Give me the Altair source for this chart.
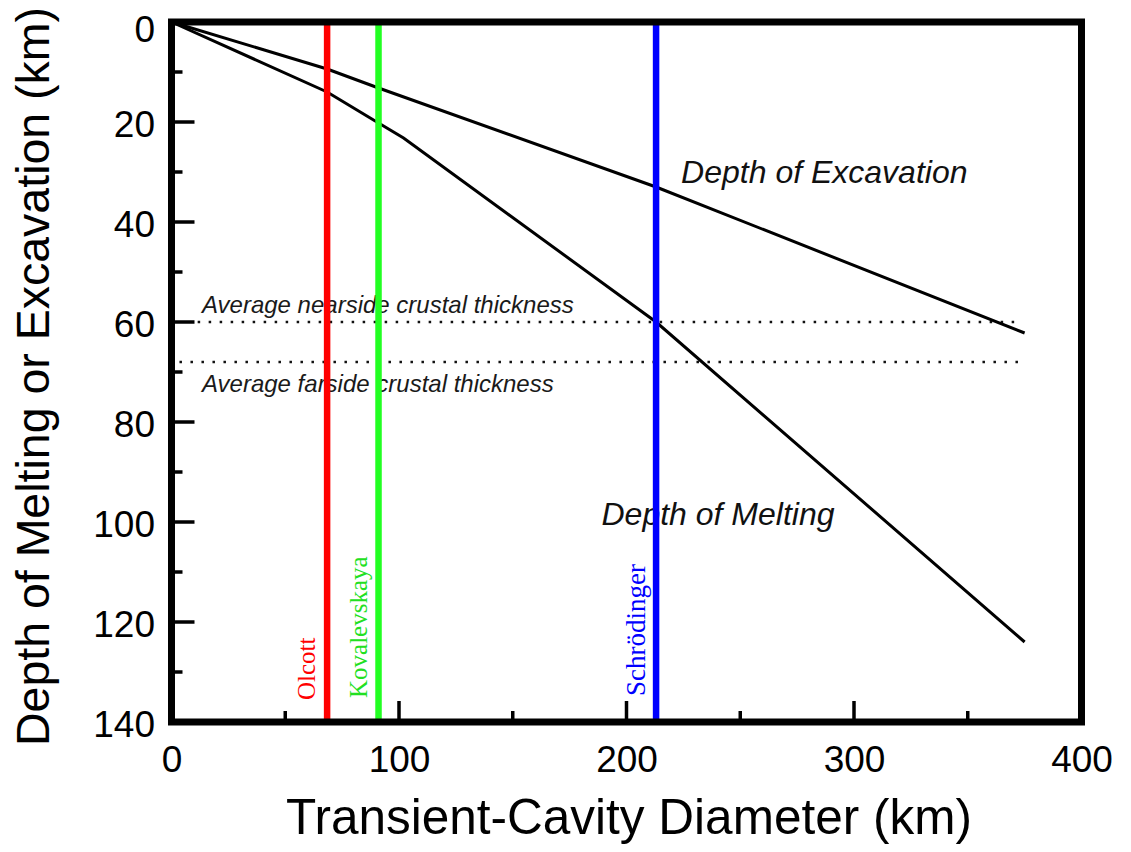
import altair as alt
import pandas as pd

# ---- data ----
exc_d = [0, 68.4, 91, 213, 375]
exc_z = [0, 9.4, 13.2, 33, 62.2]
melt_d = [0, 68.4, 91, 102, 213, 375]
melt_z = [0, 14, 20.2, 23.2, 60, 124]

crater_names = ["Olcott", "Kovalevskaya", "Schrödinger"]
crater_d = [68.4, 91, 213]
crater_line_colors = ["#ff0000", "#22ff22", "#0000ff"]
crater_text_colors = ["#ff0000", "#22e022", "#0000ff"]
crater_font_sizes = [25, 25, 27]
crater_label_d = [63, 85.8, 208]
crater_label_z = [135.6, 135.2, 134.8]

crust_names = ["Average nearside crustal thickness", "Average farside crustal thickness"]
crust_z = [60, 68]
crust_start = [11.5, 3.5]
crust_end = [374, 374]
crust_label_d = [13.4, 13.4]
crust_label_z = [58.2, 74]

curve_names = ["Depth of Excavation", "Depth of Melting"]
curve_label_d = [224, 189]
curve_label_z = [32.2, 100.6]

x_labels = [0, 100, 200, 300, 400]
y_labels = [0, 20, 40, 60, 80, 100, 120, 140]
x_major = [100, 200, 300]
x_minor = [50, 150, 250, 350]
y_major = [20, 40, 60, 80, 100, 120]
y_minor = [10, 30, 50, 70, 90, 110, 130]

W, H = 910, 700
SANS = "Liberation Sans"
SERIF = "Liberation Serif"

# ---- tables ----
curves = pd.concat([
    pd.DataFrame({"d": exc_d, "z": exc_z, "curve": curve_names[0]}),
    pd.DataFrame({"d": melt_d, "z": melt_z, "curve": curve_names[1]}),
])
craters = pd.DataFrame({"name": crater_names, "d": crater_d, "col": crater_line_colors,
                        "tcol": crater_text_colors, "fs": crater_font_sizes,
                        "ld": crater_label_d, "lz": crater_label_z})
crust = pd.DataFrame({"name": crust_names, "z": crust_z, "d": crust_start, "d2": crust_end,
                      "ld": crust_label_d, "lz": crust_label_z})
curve_lab = pd.DataFrame({"name": curve_names, "d": curve_label_d, "z": curve_label_z})
xmaj = pd.DataFrame({"d": x_major})
xmin = pd.DataFrame({"d": x_minor})
ymaj = pd.DataFrame({"z": y_major})
ymin = pd.DataFrame({"z": y_minor})
frame = pd.DataFrame({"k": [0]})

xs = alt.Scale(domain=[0, 400], nice=False, zero=False)
ys = alt.Scale(domain=[0, 140], nice=False, reverse=True)

xaxis = alt.Axis(values=x_labels, ticks=False, tickSize=0, domain=False, grid=False,
                 labelFont=SANS, labelFontSize=37, labelColor="black", labelPadding=20,
                 labelFlush=False, labelOverlap=False, format="d",
                 titleFont=SANS, titleFontSize=49.5, titleFontWeight="normal", titleColor="black",
                 titleX=W / 2 + 2, titleY=96, titleBaseline="middle", titleAlign="center")
yaxis = alt.Axis(values=y_labels, ticks=False, tickSize=0, domain=False, grid=False,
                 labelFont=SANS, labelFontSize=37, labelColor="black", labelPadding=17,
                 labelOffset={"condition": {"test": "datum.value === 0", "value": 8},
                              "value": 3},
                 labelFlush=False, labelOverlap=False, format="d",
                 titleFont=SANS, titleFontSize=46.5, titleFontWeight="normal", titleColor="black",
                 titleX=-137, titleY=H / 2 + 4, titleAngle=270, titleBaseline="middle",
                 titleAlign="center")

XT = "Transient-Cavity Diameter (km)"
YT = "Depth of Melting or Excavation (km)"


def X(field):
    return alt.X(field, type="quantitative", scale=xs, axis=xaxis, title=XT)


def Y(field):
    return alt.Y(field, type="quantitative", scale=ys, axis=yaxis, title=YT)


crater_lines = alt.Chart(craters).mark_rule(strokeWidth=6.5).encode(
    x=X("d"), y=alt.value(0), y2=alt.value(H),
    color=alt.Color("col:N", scale=None))

crater_text = alt.Chart(craters).mark_text(
    font=SERIF, angle=270, align="left", baseline="alphabetic").encode(
    x=X("ld"), y=Y("lz"), text="name:N", color=alt.Color("tcol:N", scale=None),
    size=alt.Size("fs:Q", scale=None))

crust_lines = alt.Chart(crust).mark_rule(
    strokeWidth=2.6, strokeDash=[2.5, 8.5], color="#111").encode(
    x=X("d"), x2="d2", y=Y("z"))

crust_text = alt.Chart(crust).mark_text(
    font=SANS, fontSize=24, fontStyle="italic", align="left", baseline="alphabetic",
    color="#1a1a1a").encode(x=X("ld"), y=Y("lz"), text="name:N")

curve_lines = alt.Chart(curves).mark_line(strokeWidth=3, color="black").encode(
    x=X("d"), y=Y("z"), detail="curve:N")

curve_text = alt.Chart(curve_lab).mark_text(
    font=SANS, fontSize=32, fontStyle="italic", align="left", baseline="alphabetic",
    color="#111").encode(x=X("d"), y=Y("z"), text="name:N")

tick_w = 3.5
xmaj_t = alt.Chart(xmaj).mark_rule(strokeWidth=tick_w, color="black").encode(
    x=X("d"), y=alt.value(H), y2=alt.value(H - 21))
xmin_t = alt.Chart(xmin).mark_rule(strokeWidth=tick_w, color="black").encode(
    x=X("d"), y=alt.value(H), y2=alt.value(H - 11))
ymaj_t = alt.Chart(ymaj).mark_rule(strokeWidth=tick_w, color="black").encode(
    y=Y("z"), x=alt.value(0), x2=alt.value(23))
ymin_t = alt.Chart(ymin).mark_rule(strokeWidth=tick_w, color="black").encode(
    y=Y("z"), x=alt.value(0), x2=alt.value(11))

frame_rect = alt.Chart(frame).mark_rect(
    fill="transparent", stroke="black", strokeWidth=7).encode(
    x=alt.value(0), x2=alt.value(W), y=alt.value(0), y2=alt.value(H))

chart = alt.layer(
    crust_lines, crust_text, curve_lines, curve_text,
    crater_lines, crater_text,
    xmaj_t, xmin_t, ymaj_t, ymin_t, frame_rect,
).properties(
    width=W, height=H,
    autosize=alt.AutoSizeParams(type="none"),
    padding={"left": 163.5, "top": 14, "right": 41, "bottom": 122},
    background="white",
).configure_view(stroke=None)

chart.save("out.html", embed_options={"renderer": "svg", "actions": False})
